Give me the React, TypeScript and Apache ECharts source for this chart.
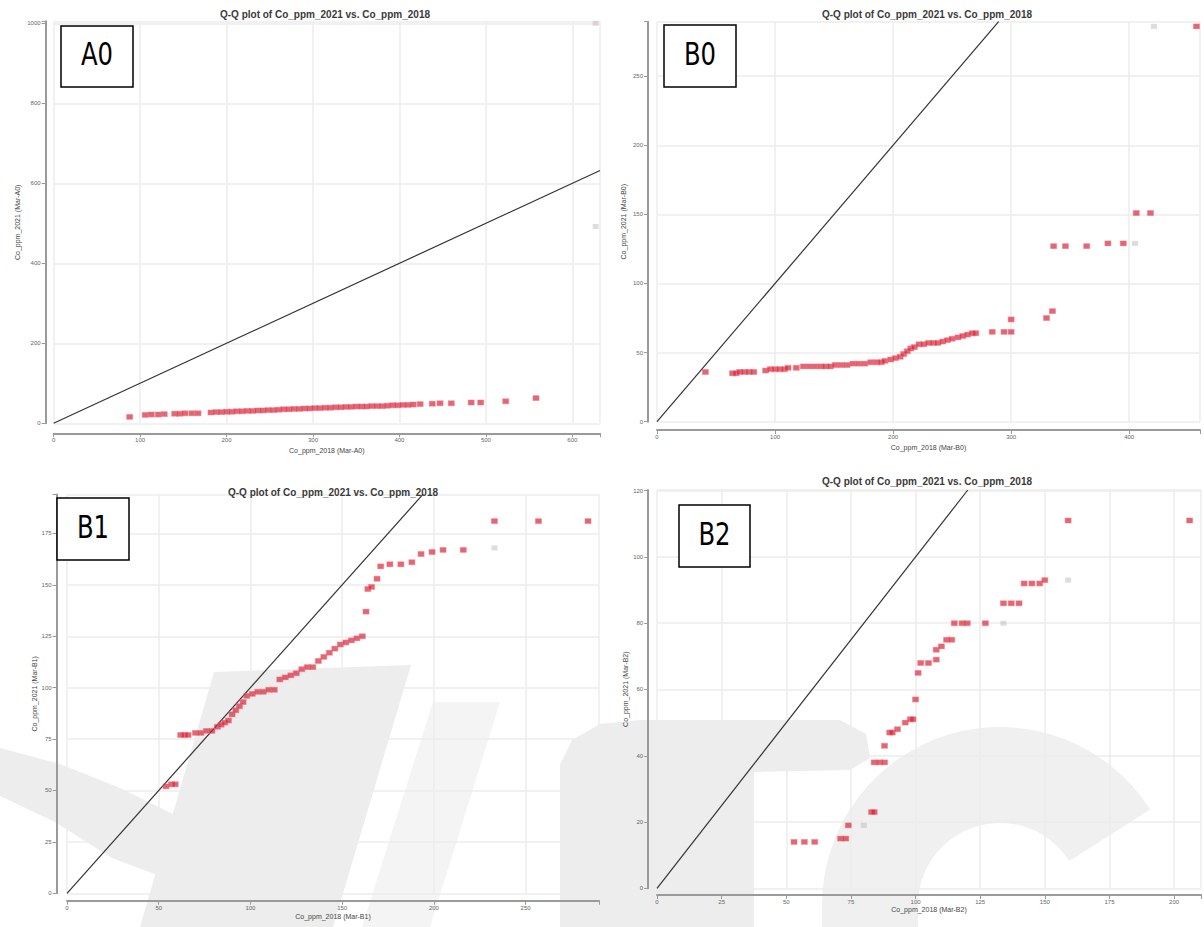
import React, { useEffect, useRef } from "react";
import * as echarts from "echarts";

// Q-Q comparison of cobalt (ppm) between the 2018 and 2021 campaigns, four sites.
const TITLE = "Q-Q plot of Co_ppm_2021 vs. Co_ppm_2018";
const panelNames = ["A0", "B0", "B1", "B2"];
const xNames = [
  "Co_ppm_2018 (Mar-A0)",
  "Co_ppm_2018 (Mar-B0)",
  "Co_ppm_2018 (Mar-B1)",
  "Co_ppm_2018 (Mar-B2)",
];
const yNames = [
  "Co_ppm_2021 (Mar-A0)",
  "Co_ppm_2021 (Mar-B0)",
  "Co_ppm_2021 (Mar-B1)",
  "Co_ppm_2021 (Mar-B2)",
];
const xMax = [632, 460, 290, 210.4];
const yMax = [1005, 289.4, 194, 120.2];
const xStep = [100, 100, 50, 25];
const yStep = [200, 50, 25, 20];

// quantile pairs [Co 2018, Co 2021]
const a0Points: [number, number][] = [
  [88, 16], [106, 21], [113, 22], [121, 22], [128, 23], [140, 24], [146, 24], [152, 25],
  [160, 25], [167, 25], [182, 27], [188, 28], [194, 28], [200, 29], [206, 29], [212, 30],
  [218, 30], [224, 31], [230, 31], [236, 32], [242, 32], [248, 33], [254, 33], [260, 34],
  [266, 35], [272, 35], [278, 36], [284, 36], [290, 37], [296, 37], [302, 38], [308, 38],
  [314, 39], [320, 39], [326, 40], [332, 40], [338, 41], [344, 41], [350, 42], [356, 42],
  [362, 42], [368, 43], [374, 43], [380, 43], [386, 44], [392, 45], [398, 45], [404, 46],
  [410, 46], [416, 47], [424, 48], [438, 49], [447, 50], [460, 50], [483, 52], [494, 52],
  [523, 55], [558, 63],
];
const a0Faint: [number, number][] = [[627, 492], [627, 1000]];

const b0Points: [number, number][] = [
  [41, 36], [64, 35], [67, 35], [70, 36], [74, 36], [78, 36], [82, 36], [92, 37], [96, 38],
  [100, 38], [104, 38], [108, 38], [111, 39], [118, 39], [124, 40], [129, 40], [134, 40],
  [139, 40], [143, 40], [147, 40], [151, 41], [156, 41], [161, 41], [166, 42], [171, 42],
  [176, 42], [181, 43], [186, 43], [190, 43], [193, 44], [198, 45], [202, 46], [206, 47],
  [209, 49], [212, 51], [215, 53], [218, 54], [222, 56], [226, 56], [230, 57], [234, 57],
  [238, 57], [242, 58], [246, 59], [250, 60], [255, 61], [259, 62], [263, 63], [267, 64],
  [270, 64], [284, 65], [294, 65], [300, 65], [300, 74], [330, 75], [335, 80], [336, 127],
  [346, 127], [364, 127], [382, 129], [395, 129], [406, 151], [418, 151], [457, 286],
];
const b0Faint: [number, number][] = [[405, 129], [421, 286]];

const b1Points: [number, number][] = [
  [54, 52], [57, 53], [59, 53], [62, 77], [64, 77], [66, 77], [70, 78], [73, 78], [76, 79],
  [79, 79], [82, 81], [84, 82], [86, 83], [88, 84], [90, 87], [92, 89], [94, 91], [96, 93],
  [98, 96], [101, 97], [104, 98], [107, 98], [110, 99], [113, 99], [116, 104], [119, 105],
  [122, 106], [125, 107], [128, 109], [131, 110], [134, 110], [137, 113], [140, 115],
  [143, 117], [146, 119], [149, 121], [152, 122], [155, 123], [158, 124], [161, 125],
  [163, 137], [164, 148], [166, 149], [169, 153], [171, 159], [176, 160], [182, 160],
  [188, 161], [193, 165], [199, 166], [205, 167], [216, 167], [233, 181], [257, 181],
  [284, 181],
];
const b1Faint: [number, number][] = [[233, 168]];

const b2Points: [number, number][] = [
  [53, 14], [57, 14], [61, 14], [71, 15], [73, 15], [74, 19], [83, 23], [84, 23], [84, 38],
  [86, 38], [88, 38], [88, 43], [90, 47], [91, 47], [93, 48], [96, 50], [98, 51], [99, 51],
  [100, 57], [101, 65], [102, 68], [105, 68], [108, 69], [108, 72], [110, 73], [112, 75],
  [114, 75], [115, 80], [118, 80], [120, 80], [127, 80], [134, 86], [137, 86], [140, 86],
  [142, 92], [145, 92], [148, 92], [150, 93], [159, 111], [206, 111],
];
const b2Faint: [number, number][] = [[80, 19], [134, 80], [159, 93]];

const mainPoints = [a0Points, b0Points, b1Points, b2Points];
const faintPoints = [a0Faint, b0Faint, b1Faint, b2Faint];

// page geometry of each panel
const LAYOUT = [
  { grid: { left: 53.6, top: 21.3, width: 546.4, height: 402 }, xOff: 10, yOff: 8, xGap: 14, yGap: 25, title: [325, 9], box: [61, 26, 72, 61] },
  { grid: { left: 657, top: 21.7, width: 543, height: 400 }, xOff: 8.3, yOff: 9, xGap: 14, yGap: 21, title: [927, 9], box: [664, 25, 72, 62] },
  { grid: { left: 67, top: 494.4, width: 532, height: 398.9 }, xOff: 7.4, yOff: 10.4, xGap: 12, yGap: 16, title: [333, 487], box: [57, 498, 72, 62] },
  { grid: { left: 657, top: 490, width: 544, height: 398.3 }, xOff: 6.7, yOff: 8.8, xGap: 11, yGap: 17, title: [927, 476], box: [679, 505, 71, 62] },
];

const FONT = "'Liberation Sans', Arial, sans-serif";
const WM = "#ededed";
const WM2 = "#f0f0f0";
const AXIS = "#9a9a9a";

function buildOption() {
  const grids = LAYOUT.map((l) => ({ ...l.grid, outerBoundsMode: "none", containLabel: false }));
  const onStep = (step: number) => (v: number) =>
    Math.abs(v / step - Math.round(v / step)) < 1e-6 ? String(v) : "";

  const xAxes = LAYOUT.map((l, i) => ({
    type: "value",
    gridIndex: i,
    min: 0,
    max: xMax[i],
    interval: xStep[i],
    offset: l.xOff,
    name: xNames[i],
    nameLocation: "middle",
    nameGap: l.xGap,
    nameTextStyle: { fontSize: 7, color: "#444", fontFamily: FONT },
    axisLine: { show: true, onZero: false, lineStyle: { color: AXIS, width: 2 } },
    axisTick: { show: true, length: 4, lineStyle: { color: AXIS } },
    axisLabel: { fontSize: 6, color: "#666", margin: 4, formatter: onStep(xStep[i]), fontFamily: FONT },
    splitLine: { show: true, lineStyle: { color: "#ededed", width: 1.5 } },
  }));

  const yAxes = LAYOUT.map((l, i) => ({
    type: "value",
    gridIndex: i,
    min: 0,
    max: yMax[i],
    interval: yStep[i],
    offset: l.yOff,
    name: yNames[i],
    nameLocation: "middle",
    nameGap: l.yGap,
    nameRotate: 90,
    nameTextStyle: { fontSize: 7, color: "#444", fontFamily: FONT },
    axisLine: { show: true, onZero: false, lineStyle: { color: AXIS, width: 2 } },
    axisTick: { show: true, length: 4, lineStyle: { color: AXIS } },
    axisLabel: { fontSize: 6, color: "#666", margin: 5, formatter: onStep(yStep[i]), fontFamily: FONT },
    splitLine: { show: true, lineStyle: { color: "#ededed", width: 1.5 } },
  }));

  const series: any[] = [];
  for (let i = 0; i < 4; i++) {
    const m = Math.min(xMax[i], yMax[i]);
    series.push({
      type: "line",
      xAxisIndex: i,
      yAxisIndex: i,
      data: [[0, 0], [m, m]],
      symbol: "none",
      silent: true,
      lineStyle: { color: "#333", width: 1.2 },
      z: 3,
    });
    series.push({
      type: "scatter",
      xAxisIndex: i,
      yAxisIndex: i,
      data: faintPoints[i],
      symbol: "rect",
      symbolSize: [6, 5],
      itemStyle: { color: "rgba(190,170,175,0.55)" },
      z: 4,
    });
    series.push({
      type: "scatter",
      xAxisIndex: i,
      yAxisIndex: i,
      data: mainPoints[i],
      symbol: "rect",
      symbolSize: [6, 5],
      itemStyle: { color: "rgba(214,30,52,0.85)", borderColor: "rgba(240,120,130,0.6)", borderWidth: 1 },
      z: 5,
    });
  }

  const titles = LAYOUT.map((l) => ({
    text: TITLE,
    left: l.title[0],
    top: l.title[1],
    padding: 0,
    textAlign: "center",
    textStyle: { fontSize: 10, fontWeight: "bold", color: "#3a3a3a", fontFamily: FONT },
  }));

  // faint logo artwork behind the lower panels
  const watermark: any[] = [
    { type: "polygon", z: -10, silent: true, shape: { points: [[0, 748], [60, 764], [120, 788], [175, 815], [165, 878], [112, 858], [55, 822], [0, 796]] }, style: { fill: WM } },
    { type: "polygon", z: -10, silent: true, shape: { points: [[214, 672], [411, 665], [333, 927], [140, 927]] }, style: { fill: WM } },
    { type: "polygon", z: -10, silent: true, shape: { points: [[433, 702], [500, 702], [430, 927], [362, 927]] }, style: { fill: "#f4f4f4" } },
    {
      type: "polygon", z: -10, silent: true,
      shape: { points: [[560, 927], [560, 765], [572, 740], [600, 724], [640, 720], [840, 720], [866, 734], [870, 758], [850, 770], [754, 772], [754, 927]] },
      style: { fill: WM },
    },
    { type: "sector", z: -10, silent: true, shape: { cx: 1000, cy: 905, r: 178, r0: 82, startAngle: Math.PI, endAngle: Math.PI * 1.82 }, style: { fill: WM2 } },
    { type: "rect", z: -10, silent: true, shape: { x: 822, y: 904, width: 96, height: 23 }, style: { fill: WM2 } },
  ];

  const boxes: any[] = LAYOUT.map((l, i) => ({
    type: "group",
    z: 100,
    children: [
      {
        type: "rect",
        z: 100,
        shape: { x: l.box[0], y: l.box[1], width: l.box[2], height: l.box[3] },
        style: { fill: "#fff", stroke: "#000", lineWidth: 1.5 },
      },
      {
        type: "text",
        z: 101,
        x: l.box[0] + l.box[2] / 2,
        y: l.box[1] + l.box[3] / 2 - 2,
        scaleY: 1.15,
        style: {
          text: panelNames[i],
          x: 0,
          y: 0,
          align: "center",
          verticalAlign: "middle",
          textAlign: "center",
          textVerticalAlign: "middle",
          fontSize: 27,
          fontWeight: "normal",
          fontFamily: "'Liberation Sans Narrow', 'DejaVu Sans Condensed', 'Arial Narrow', sans-serif",
          fill: "#000",
        },
      },
    ],
  }));

  return {
    animation: false,
    backgroundColor: "#fff",
    title: titles,
    grid: grids,
    xAxis: xAxes,
    yAxis: yAxes,
    series,
    graphic: [...watermark, ...boxes],
  };
}

export default function App() {
  const ref = useRef<HTMLDivElement>(null);
  useEffect(() => {
    if (!ref.current) return;
    const chart = echarts.init(ref.current, undefined, { renderer: "svg" });
    chart.setOption(buildOption() as any);
    return () => chart.dispose();
  }, []);
  return (
    <div
      ref={ref}
      style={{ position: "fixed", left: 0, top: 0, width: 1204, height: 927, background: "#fff" }}
    />
  );
}
